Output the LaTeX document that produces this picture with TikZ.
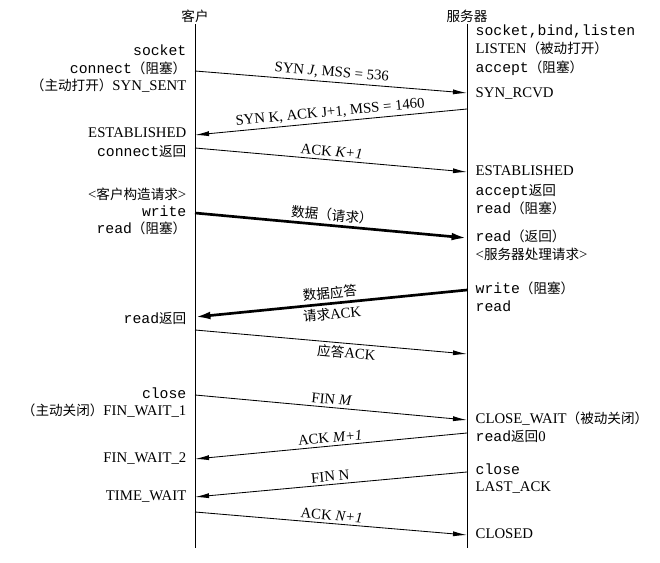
\documentclass[tikz,border=0pt]{standalone}
\usepackage{fontspec}
\setmainfont{Liberation Serif}
\setmonofont{Liberation Mono}
\newfontfamily\cjk[Scale=0.92]{Noto Sans CJK SC}
\usetikzlibrary{arrows.meta}
\newcommand{\zh}[1]{{\cjk #1}}
\newcommand{\fn}[1]{\texttt{#1}}

\begin{document}
\begin{tikzpicture}[
    x=0.025cm, y=-0.025cm,
    lifeline/.style={line width=0.7pt},
    msg/.style={-{Latex[length=10pt,width=3.6pt]},line width=0.6pt},
    data/.style={-{Latex[length=11pt,width=5.5pt]},line width=1.9pt},
    cstate/.style={anchor=east,inner sep=1pt,text height=0.72em,text depth=0.22em},
    sstate/.style={anchor=west,inner sep=1pt,text height=0.72em,text depth=0.22em},
    lbl/.style={sloped,inner sep=2pt},
    font=\fontsize{10.5}{12}\selectfont
  ]
  \useasboundingbox (0,0) rectangle (660,563);

  %% headers and lifelines
  \node[inner sep=1pt] (hClient) at (195,16) {\zh{客户}};
  \node[inner sep=1pt] (hServer) at (467,16) {\zh{服务器}};
  \coordinate (cBot) at (195,548);
  \coordinate (sBot) at (467,548);
  \draw[lifeline] (hClient.south) -- (cBot);
  \draw[lifeline] (hServer.south) -- (sBot);

  %% message end points on the two lifelines
  \foreach \m/\yc/\ys in {synJ/71/93, synK/135/109, ackK/148/172,
      req/213/238, rep/317/290, ackRep/330/354,
      finM/395/420, ackM/459/433, finN/497/472, ackN/512/535}
    {\coordinate (\m-c) at (195,\yc); \coordinate (\m-s) at (467,\ys);}

  %% client side
  \node[cstate] (cSocket)  at (188,52)  {\fn{socket}};
  \node[cstate] (cConnect) at (188,70)  {\fn{connect}\zh{（阻塞）}};
  \node[cstate] (cSynSent) at (188,87)  {\zh{（主动打开）}SYN\_SENT};
  \node[cstate] (cEstab)   at (188,134) {ESTABLISHED};
  \node[cstate] (cConnRet) at (188,153) {\fn{connect}\zh{返回}};
  \node[cstate] (cBuild)   at (188,196) {<\zh{客户构造请求}>};
  \node[cstate] (cWrite)   at (188,213) {\fn{write}};
  \node[cstate] (cReadBlk) at (188,230) {\fn{read}\zh{（阻塞）}};
  \node[cstate] (cReadRet) at (188,320) {\fn{read}\zh{返回}};
  \node[cstate] (cClose)   at (188,395) {\fn{close}};
  \node[cstate] (cFinW1)   at (188,412) {\zh{（主动关闭）}FIN\_WAIT\_1};
  \node[cstate] (cFinW2)   at (188,459) {FIN\_WAIT\_2};
  \node[cstate] (cTimeW)   at (188,497) {TIME\_WAIT};

  %% server side
  \node[sstate] (sSocket)   at (474,32)  {\fn{socket,bind,listen}};
  \node[sstate] (sListen)   at (474,50)  {LISTEN\zh{（被动打开）}};
  \node[sstate] (sAccept)   at (474,69)  {\fn{accept}\zh{（阻塞）}};
  \node[sstate] (sSynRcvd)  at (474,94)  {SYN\_RCVD};
  \node[sstate] (sEstab)    at (474,172) {ESTABLISHED};
  \node[sstate] (sAccRet)   at (474,192) {\fn{accept}\zh{返回}};
  \node[sstate] (sReadBlk)  at (474,210) {\fn{read}\zh{（阻塞）}};
  \node[sstate] (sReadRet)  at (474,238) {\fn{read}\zh{（返回）}};
  \node[sstate] (sProc)     at (474,256) {<\zh{服务器处理请求}>};
  \node[sstate] (sWrite)    at (474,290) {\fn{write}\zh{（阻塞）}};
  \node[sstate] (sRead)     at (474,308) {\fn{read}};
  \node[sstate] (sCloseW)   at (474,420) {CLOSE\_WAIT\zh{（被动关闭）}};
  \node[sstate] (sReadZero) at (474,438) {\fn{read}\zh{返回}0};
  \node[sstate] (sClose)    at (474,471) {\fn{close}};
  \node[sstate] (sLastAck)  at (474,488) {LAST\_ACK};
  \node[sstate] (sClosed)   at (474,535) {CLOSED};

  %% connection setup
  \draw[msg] (synJ-c) -- node[lbl,above]{SYN \textit{J}, MSS = 536} (synJ-s);
  \draw[msg] (synK-s) -- node[lbl,above]{SYN K, ACK J+1, MSS = 1460} (synK-c);
  \draw[msg] (ackK-c) -- node[lbl,above]{ACK \textit{K+1}} (ackK-s);

  %% data transfer
  \draw[data] (req-c) -- node[lbl,above]{\zh{数据（请求）}} (req-s);
  \draw[data] (rep-s) -- node[lbl,above]{\zh{数据应答}}
                         node[lbl,below]{\zh{请求}ACK} (rep-c);
  \draw[msg] (ackRep-c) -- node[lbl,below,pos=0.56]{\zh{应答}ACK} (ackRep-s);

  %% connection release
  \draw[msg] (finM-c) -- node[lbl,above]{FIN \textit{M}} (finM-s);
  \draw[msg] (ackM-s) -- node[lbl,above]{ACK \textit{M+1}} (ackM-c);
  \draw[msg] (finN-s) -- node[lbl,above]{FIN N} (finN-c);
  \draw[msg] (ackN-c) -- node[lbl,above]{ACK \textit{N+1}} (ackN-s);
\end{tikzpicture}
\end{document}
